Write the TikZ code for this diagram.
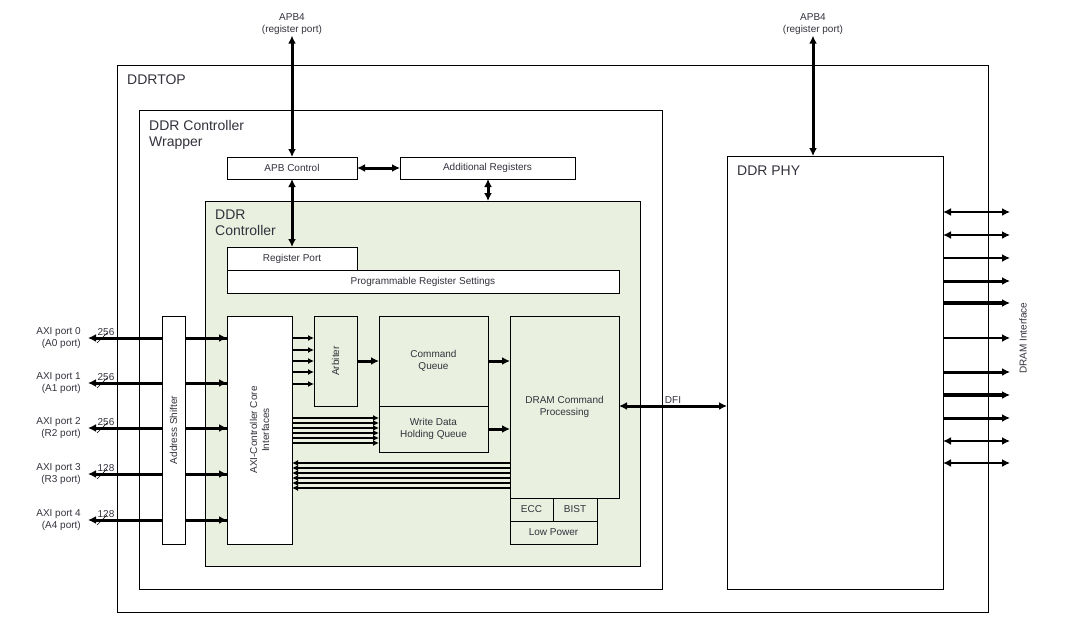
\documentclass[tikz,border=0pt]{standalone}
\usepackage{fontspec}
\setmainfont{Liberation Sans}
\usetikzlibrary{arrows.meta,positioning}
\definecolor{ctrlgreen}{RGB}{233,240,223}
\definecolor{txtgray}{RGB}{50,50,60}
\tikzset{
  box/.style={draw, rectangle, inner sep=0pt, outer sep=0pt, line width=0.9pt, fill=white, align=center, font=\fontsize{10}{12}\selectfont, text=txtgray},
  title/.style={anchor=north west, align=left, inner sep=0pt, font=\fontsize{14}{16}\selectfont, text=txtgray},
  bus/.style={line width=3pt, -{Latex[length=8pt,width=8pt]}},
  bbus/.style={line width=3pt, {Latex[length=8pt,width=8pt]}-{Latex[length=8pt,width=8pt]}},
  small/.style={font=\fontsize{10}{12}\selectfont, text=txtgray, align=center, inner sep=1pt}
}
\begin{document}
\begin{tikzpicture}[x=1pt, y=-1pt]
  \useasboundingbox (0,0) rectangle (1080,626);
  % outer blocks
  \node[box, minimum width=871, minimum height=547] (ddrtop) at (552.5,338.5) {};
  \node[title] (toplabel) at (127,75) {DDRTOP};
  \node[box, minimum width=523, minimum height=479] (wrapper) at (400.5,349.5) {};
  \node[title] (wraplabel) at (149,120) {DDR Controller\\Wrapper};
  \node[box, minimum width=216, minimum height=433] (phy) at (835,372.5) {};
  \node[title] (phylabel) at (737,166) {DDR PHY};
  % register path
  \node[box, minimum width=130, minimum height=22] (apb) at (292,168) {APB Control};
  \node[box, minimum width=175, minimum height=22] (addreg) at (487.5,168) {Additional Registers};
  \node[box, fill=ctrlgreen, minimum width=435, minimum height=365] (ctrl) at (422.5,383.5) {};
  \node[title] (ctrllabel) at (215,210) {DDR\\Controller};
  \node[box, minimum width=130, minimum height=23] (regport) at (292,258.5) {Register Port};
  \node[box, minimum width=392, minimum height=23] (prog) at (423,281.5) {Programmable Register Settings};
  % datapath
  \node[box, minimum width=65, minimum height=228] (core) at (259.5,430) {};
  \node[small, rotate=90] (corelabel) at (core) {AXI-Controller Core\\Interfaces};
  \node[box, fill=ctrlgreen, minimum width=43, minimum height=90] (arb) at (335.5,361) {};
  \node[small, rotate=90] (arblabel) at (arb) {Arbiter};
  \node[box, fill=ctrlgreen, minimum width=109, minimum height=90] (cmdq) at (433.5,361) {Command\\Queue};
  \node[box, fill=ctrlgreen, minimum width=109, minimum height=46] (wdhq) at (433.5,429) {Write Data\\Holding Queue};
  \node[box, fill=ctrlgreen, minimum width=109, minimum height=182] (dram) at (564.5,407) {DRAM Command\\Processing};
  \node[box, fill=ctrlgreen, minimum width=43, minimum height=23] (ecc) at (531.5,509.5) {ECC};
  \node[box, fill=ctrlgreen, minimum width=44, minimum height=23] (bist) at (575,509.5) {BIST};
  \node[box, fill=ctrlgreen, minimum width=87, minimum height=23] (lowpow) at (553.5,532.5) {Low Power};
  % APB4 ports
  \node[small] (apbA) at (292,24) {APB4\\(register port)};
  \node[small] (apbB) at (813,24) {APB4\\(register port)};
  \draw[bbus] (apbA.south) -- (apb.north);
  \draw[bbus] (apbB.south) -- (phy.north -| apbB.south);
  \draw[bbus] (apb.east) -- (addreg.west);
  \draw[bbus] (addreg.south -| 488,0) -- (ctrl.north -| 488,0);
  \draw[bbus] (apb.south) -- (regport.north);
  % AXI ports
  \foreach \y/\p/\q/\w [count=\i from 0] in {338/0/A0/256, 383/1/A1/256, 428/2/R2/256, 474/3/R3/128, 520/4/A4/128} {
    \node[small, anchor=east, align=right] (axi\i) at (82,\y) {AXI port \p\\(\q\ port)};
    \coordinate (pin\i) at (88,\y);
    \draw[line width=3pt, {Latex[length=8pt,width=8pt]}-] (pin\i) -- (core.west |- pin\i);
    \draw[bus] (185,\y) -- (core.west |- pin\i);
    \draw[thin] (97,\y+5) -- (107,\y-5);
    \node[small, anchor=south] (bw\i) at (106,\y-1) {\w};
  }
  \node[box, minimum width=23, minimum height=228] (shift) at (173.5,430) {};
  \node[small, rotate=90] (shiftlabel) at (shift) {Address Shifter};
  % core to arbiter and queues
  \foreach \y in {338,350,361,372,384}
    \draw[line width=2.6pt, -{Latex[length=6pt,width=6pt]}] (core.east |- 0,\y) -- (arb.west |- 0,\y);
  \foreach \y in {418,423,428,433,438,443}
    \draw[line width=2.6pt, -{Latex[length=6pt,width=6pt]}] (core.east |- 0,\y) -- (wdhq.west |- 0,\y);
  \foreach \y in {463,468,473,478,483,488}
    \draw[line width=2.6pt, -{Latex[length=6pt,width=6pt]}] (dram.west |- 0,\y) -- (core.east |- 0,\y);
  \draw[bus] (arb.east) -- (cmdq.west);
  \draw[bus] (cmdq.east) -- (dram.west |- cmdq.east);
  \draw[bus] (wdhq.east) -- (dram.west |- wdhq.east);
  \draw[bbus] (dram.east |- 0,406) -- node[small, above] (dfi) {DFI} (phy.west |- 0,406);
  % DRAM interface
  \foreach \y/\s/\t in {212/bbus/2.4, 235/bbus/2.4, 258/bus/2.4, 281/bus/3, 303/bus/3.4, 338/bus/2, 372/bus/3, 395/bus/3.2, 418/bus/3, 441/bbus/2.4, 463/bbus/2.4}
    \draw[\s, line width=\t pt] (phy.east |- 0,\y) -- (1010,\y);
  \node[small, rotate=90] (dramif) at (1023,338) {DRAM Interface};
\end{tikzpicture}
\end{document}
